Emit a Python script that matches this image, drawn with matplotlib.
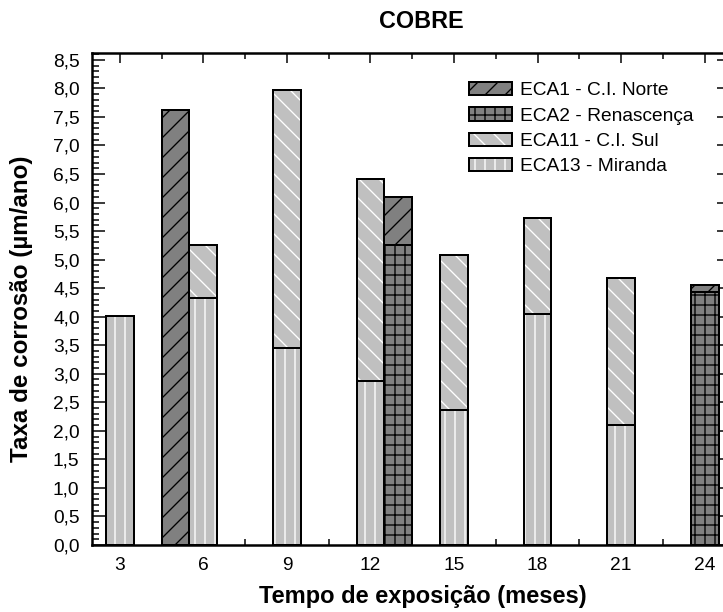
import matplotlib
matplotlib.use('Agg')
import matplotlib.pyplot as plt
from matplotlib.ticker import MultipleLocator, FuncFormatter, FixedLocator
from matplotlib.legend_handler import HandlerTuple

plt.rcParams['font.family'] = ['Liberation Sans', 'DejaVu Sans']
plt.rcParams['hatch.linewidth'] = 0.8

# ---- data ----
x_eca1 = [5, 13, 24]
v_eca1 = [7.62, 6.09, 4.56]
x_eca2 = [13, 24]
v_eca2 = [5.26, 4.44]
x_eca11 = [6, 9, 12, 15, 18, 21]
v_eca11 = [5.26, 7.97, 6.41, 5.08, 5.73, 4.68]
x_eca13 = [3, 6, 9, 12, 15, 18, 21]
v_eca13 = [4.01, 4.32, 3.45, 2.88, 2.37, 4.05, 2.10]
series_labels = ['ECA1 - C.I. Norte', 'ECA2 - Renascença', 'ECA11 - C.I. Sul', 'ECA13 - Miranda']
xtick_values = [3, 6, 9, 12, 15, 18, 21, 24]

DPI = 120
AX_L, AX_R, AX_T, AX_B = 92, 730, 53, 545
AW = AX_R - AX_L
AH = AX_B - AX_T
fig = plt.figure(figsize=(723 / DPI, 612 / DPI), dpi=DPI)
ax = fig.add_axes([AX_L / 723, 1 - AX_B / 612, AW / 723, AH / 612])

DARK = '#808080'
LIGHT = '#c0c0c0'
LW = 1.2
W = 1.0


def black_hatch_bar(x, v, hatch, z):
    b = ax.bar(x, v, width=W, color=DARK, edgecolor='black', hatch=hatch,
               linewidth=LW, zorder=z)
    return b[0]


def white_hatch_bar(x, v, hatch, z):
    f = ax.bar(x, v, width=W, color=LIGHT, edgecolor='white', hatch=hatch,
               linewidth=0, zorder=z)
    e = ax.bar(x, v, width=W, fill=False, edgecolor='black', linewidth=LW,
               zorder=z + 0.1)
    return (f[0], e[0])


h1 = black_hatch_bar(x_eca1, v_eca1, '//', 2)
h11 = white_hatch_bar(x_eca11, v_eca11, '\\\\', 2)
h2 = black_hatch_bar(x_eca2, v_eca2, '++', 3)
h13 = white_hatch_bar(x_eca13, v_eca13, '||', 3)

ax.set_xlim(2.0, 24.91)
ax.set_ylim(0, 8.62)

ax.xaxis.set_major_locator(FixedLocator(xtick_values))
ax.xaxis.set_minor_locator(MultipleLocator(1.5))
ax.yaxis.set_major_locator(MultipleLocator(0.5))
ax.yaxis.set_minor_locator(MultipleLocator(0.1))
ax.yaxis.set_major_formatter(FuncFormatter(lambda v, _: f"{v:.1f}".replace('.', ',')))

ax.tick_params(which='both', direction='in', top=True, right=True, labelsize=11.5, width=0.9)
ax.tick_params(axis='x', which='major', length=6, pad=7)
ax.tick_params(axis='x', which='minor', length=3.5)
ax.tick_params(axis='y', which='major', length=8, pad=7.5)
ax.tick_params(axis='y', which='minor', length=4, right=False)
for s in ax.spines.values():
    s.set_linewidth(1.5)

ax.set_xlabel('Tempo de exposição (meses)', fontsize=14.2, fontweight='bold')
ax.set_ylabel('Taxa de corrosão (µm/ano)', fontsize=14.5, fontweight='bold')
ax.xaxis.set_label_coords((423 - AX_L) / AW, (AX_B - 585) / AH)
ax.yaxis.set_label_coords((33 - AX_L) / AW, (AX_B - 309) / AH)
fig.text(421 / 723, 1 - 22 / 612, 'COBRE', fontsize=14, fontweight='bold', ha='center', va='center')

leg = ax.legend([h1, h2, h11, h13], series_labels,
                handler_map={tuple: HandlerTuple(ndivide=1)},
                loc='upper left', bbox_to_anchor=(469 / 723, 1 - 82 / 612),
                bbox_transform=fig.transFigure, frameon=False, fontsize=11.5,
                handlelength=2.24, handleheight=0.7, handletextpad=0.42,
                labelspacing=0.41, borderpad=0, borderaxespad=0)

fig.savefig('out.png', dpi=DPI)
